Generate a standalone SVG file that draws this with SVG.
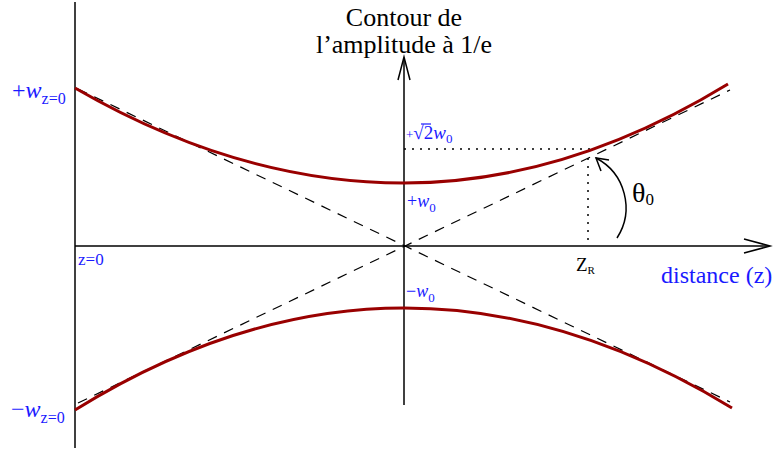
<svg xmlns="http://www.w3.org/2000/svg" width="780" height="450" viewBox="0 0 780 450">
<style>
.ax{stroke:#000;stroke-width:1.5;fill:none}
.beam{stroke:#990000;stroke-width:3;fill:none}
.dash{stroke:#000;stroke-width:1.2;stroke-dasharray:10,8;fill:none}
.dot{stroke:#000;stroke-width:1.5;stroke-dasharray:2,6;fill:none}
.blue{fill:#1a1aff;font-family:"Liberation Serif",serif}
.blk{fill:#000;font-family:"Liberation Serif",serif}
</style>
<rect width="780" height="450" fill="#fff"/>
<g id="axes">
<line class="ax" x1="75" y1="2" x2="75" y2="448"/>
<line class="ax" x1="75" y1="246" x2="769" y2="246"/>
<polyline class="ax" points="744,239 770,246 744,253"/>
<line class="ax" x1="404" y1="405" x2="404" y2="58"/>
<polyline class="ax" points="398,80 404,57 410,80"/>
</g>
<g id="asymptotes">
<line class="dash" x1="78" y1="89" x2="730" y2="402"/>
<line class="dash" x1="78" y1="403" x2="730" y2="90"/>
</g>
<g id="guides">
<line class="dot" x1="404" y1="149" x2="590" y2="149"/>
<line class="dot" x1="588" y1="150" x2="588" y2="246"/>
</g>
<g id="beam">
<path class="beam" d="M75,88 Q239.5,183 404,183 Q566,183 728,84"/>
<path class="beam" d="M75,410 Q239.5,308 404,308 Q568,308 732,408"/>
</g>
<g id="angle">
<path class="ax" d="M617,238 A56,56 0 0 0 596,158"/>
<polyline class="ax" points="609,160 596,158 601,171"/>
</g>
<g id="labels">
<text class="blk" x="404" y="26" font-size="26" text-anchor="middle">Contour de</text>
<text class="blk" x="404" y="53" font-size="26" text-anchor="middle">l’amplitude à 1/e</text>
<text class="blue" x="12" y="98" font-size="24">+<tspan font-style="italic">w</tspan><tspan font-size="16" dy="6">z=0</tspan></text>
<text class="blue" x="11" y="417" font-size="24">−<tspan font-style="italic">w</tspan><tspan font-size="16" dy="6">z=0</tspan></text>
<text class="blue" x="78" y="265" font-size="17">z=0</text>
<text class="blue" x="406" y="139" font-size="13">+<tspan font-size="19">√2</tspan><tspan font-size="19" font-style="italic">w</tspan><tspan font-size="13" dy="4">0</tspan></text>
<line x1="421" y1="124" x2="431" y2="124" stroke="#1a1aff" stroke-width="1.2"/>
<text class="blue" x="407" y="207" font-size="18">+<tspan font-style="italic">w</tspan><tspan font-size="13" dy="5">0</tspan></text>
<text class="blue" x="406" y="297" font-size="18">−<tspan font-style="italic">w</tspan><tspan font-size="13" dy="5">0</tspan></text>
<text class="blk" x="576" y="271" font-size="19">Z<tspan font-size="11" dy="3">R</tspan></text>
<text class="blk" x="632" y="202" font-size="28">θ<tspan font-size="17" dy="3">0</tspan></text>
<text class="blue" x="661" y="283" font-size="24">distance (z)</text>
</g>
</svg>
